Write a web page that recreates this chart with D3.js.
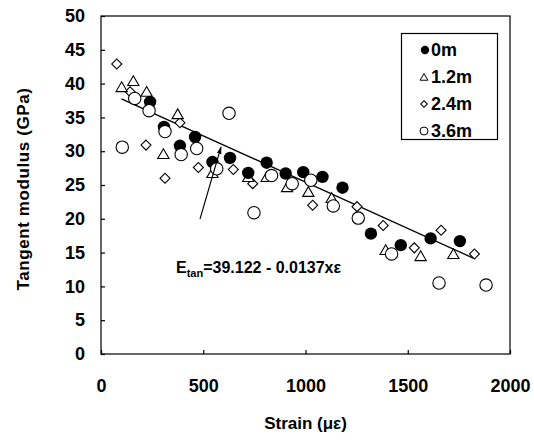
<!DOCTYPE html>
<html>
<head>
<meta charset="utf-8">
<script src="https://cdn.jsdelivr.net/npm/d3@7"></script>
<style>
  body { margin: 0; background: #fff; }
  text { font-family: "Liberation Sans", Arial, sans-serif; font-weight: bold; fill: #000; }
</style>
</head>
<body>
<svg id="chart" width="534" height="444"></svg>
<script>
// strain (micro-strain) and tangent modulus (GPa) for each depth
let depth0x = [240, 308, 386, 460, 545, 631, 720, 810, 903, 989, 1083, 1181, 1320, 1466, 1612, 1755]
let depth0y = [37.3, 33.6, 30.8, 32.1, 28.4, 29.0, 26.8, 28.3, 26.7, 26.9, 26.2, 24.6, 17.8, 16.1, 17.1, 16.7]

let depth12x = [101, 158, 223, 305, 375, 545, 720, 810, 910, 1014, 1128, 1392, 1563, 1723]
let depth12y = [39.3, 40.2, 38.6, 29.4, 35.3, 26.6, 26.0, 26.0, 24.5, 23.8, 22.9, 15.2, 14.3, 14.6]

let depth24x = [77, 142, 220, 313, 386, 476, 647, 742, 1035, 1252, 1380, 1532, 1663, 1826]
let depth24y = [42.9, 38.8, 30.9, 26.0, 34.2, 27.6, 27.3, 25.2, 22.0, 21.8, 19.0, 15.7, 18.3, 14.8]

let depth36x = [104, 165, 235, 313, 392, 468, 566, 626, 748, 834, 935, 1026, 1136, 1258, 1421, 1653, 1883]
let depth36y = [30.6, 37.8, 36.0, 32.9, 29.5, 30.4, 27.4, 35.6, 20.9, 26.4, 25.2, 25.7, 21.9, 20.1, 14.8, 10.5, 10.2]

let seriesNames = ['0m', '1.2m', '2.4m', '3.6m']
let xTicks = [0, 500, 1000, 1500, 2000]
let yTicks = [0, 5, 10, 15, 20, 25, 30, 35, 40, 45, 50]

// fitted line E = 39.122 - 0.0137 x
let fitA = 39.122
let fitB = 0.0137
let fitRange = [100, 1820]

let svg = d3.select('#chart')

let plotLeft = 101, plotTop = 16, plotRight = 510, plotBottom = 354

let xScale = d3.scaleLinear().domain([0, 2000]).range([plotLeft, plotRight])
let yScale = d3.scaleLinear().domain([0, 50]).range([plotBottom, plotTop])

// plot frame
svg.append('rect')
   .attr('x', plotLeft)
   .attr('y', plotTop)
   .attr('width', plotRight - plotLeft)
   .attr('height', plotBottom - plotTop)
   .attr('fill', 'none')
   .attr('stroke', '#000')
   .attr('stroke-width', 1.2)

let xAxis = d3.axisBottom(xScale)
              .tickValues(xTicks)
              .tickSizeInner(-4)
              .tickSizeOuter(0)
              .tickPadding(25)
              .tickFormat(d3.format('d'))

let yAxis = d3.axisLeft(yScale)
              .tickValues(yTicks)
              .tickSizeInner(-4)
              .tickSizeOuter(0)
              .tickPadding(16)

svg.append('g')
   .attr('transform', 'translate(0,' + plotBottom + ')')
   .call(xAxis)
svg.append('g')
   .attr('transform', 'translate(' + plotLeft + ',0)')
   .call(yAxis)

svg.selectAll('.domain').remove()
svg.selectAll('.tick line').attr('stroke', '#000').attr('stroke-width', 1.2)
svg.selectAll('.tick text')
   .style('font-family', '"Liberation Sans", Arial, sans-serif')
   .style('font-weight', 'bold')
   .style('font-size', '18px')
   .attr('fill', '#000')

// axis titles
svg.append('text')
   .attr('x', (plotLeft + plotRight) / 2)
   .attr('y', 429)
   .attr('text-anchor', 'middle')
   .style('font-size', '17px')
   .text('Strain (\u03bc\u03b5)')

svg.append('text')
   .attr('transform', 'translate(29,189) rotate(-90)')
   .attr('text-anchor', 'middle')
   .style('font-size', '17px')
   .style('letter-spacing', '0.6px')
   .text('Tangent modulus (GPa)')

// regression line
let fitLine = d3.line()
                .x((d) => xScale(d))
                .y((d) => yScale(fitA - fitB * d))
svg.append('path')
   .attr('d', fitLine(fitRange))
   .attr('fill', 'none')
   .attr('stroke', '#000')
   .attr('stroke-width', 1.3)

// markers
let triangle = d3.symbol().type(d3.symbolTriangle).size(55)
let diamond = d3.symbol().type(d3.symbolSquare).size(50)

let toPoints = (xs, ys) => xs.map((x, i) => ({x: x, y: ys[i]}))

svg.append('g').selectAll('path')
   .data(toPoints(depth24x, depth24y))
   .enter()
   .append('path')
   .attr('d', diamond)
   .attr('transform', (d) => 'translate(' + xScale(d.x) + ',' + yScale(d.y) + ') rotate(45)')
   .attr('fill', '#fff')
   .attr('stroke', '#000')
   .attr('stroke-width', 1.1)

svg.append('g').selectAll('path')
   .data(toPoints(depth12x, depth12y))
   .enter()
   .append('path')
   .attr('d', triangle)
   .attr('transform', (d) => 'translate(' + xScale(d.x) + ',' + yScale(d.y) + ')')
   .attr('fill', '#fff')
   .attr('stroke', '#000')
   .attr('stroke-width', 1.1)

svg.append('g').selectAll('circle')
   .data(toPoints(depth0x, depth0y))
   .enter()
   .append('circle')
   .attr('cx', (d) => xScale(d.x))
   .attr('cy', (d) => yScale(d.y))
   .attr('r', 6.2)
   .attr('fill', '#000')

svg.append('g').selectAll('circle')
   .data(toPoints(depth36x, depth36y))
   .enter()
   .append('circle')
   .attr('cx', (d) => xScale(d.x))
   .attr('cy', (d) => yScale(d.y))
   .attr('r', 6.2)
   .attr('fill', '#fff')
   .attr('stroke', '#000')
   .attr('stroke-width', 1.1)

// equation annotation with arrow
svg.append('defs').append('marker')
   .attr('id', 'head')
   .attr('viewBox', '0 0 10 10')
   .attr('refX', 9)
   .attr('refY', 5)
   .attr('markerWidth', 7)
   .attr('markerHeight', 9)
   .attr('orient', 'auto')
   .append('path')
   .attr('d', 'M0,2 L10,5 L0,8 Z')
   .attr('fill', '#000')

svg.append('line')
   .attr('x1', 200)
   .attr('y1', 219)
   .attr('x2', 221)
   .attr('y2', 147)
   .attr('stroke', '#000')
   .attr('stroke-width', 1.1)
   .attr('marker-end', 'url(#head)')

let eq = svg.append('text')
            .attr('x', 176)
            .attr('y', 273)
            .style('font-size', '16px')
eq.append('tspan').text('E')
eq.append('tspan').attr('dy', 4).style('font-size', '11px').text('tan')
eq.append('tspan').attr('dy', -4).text('=39.122 - 0.0137x\u03b5')

// legend
let legend = svg.append('g')
legend.append('rect')
      .attr('x', 401.5)
      .attr('y', 33.5)
      .attr('width', 96)
      .attr('height', 106)
      .attr('fill', '#fff')
      .attr('stroke', '#000')
      .attr('stroke-width', 1.2)

let rowY = (i) => 50 + i * 27
let smallTri = d3.symbol().type(d3.symbolTriangle).size(26)
let smallDia = d3.symbol().type(d3.symbolSquare).size(22)

legend.append('circle').attr('cx', 425).attr('cy', rowY(0)).attr('r', 4.2).attr('fill', '#000')
legend.append('path').attr('d', smallTri)
      .attr('transform', 'translate(424,' + (rowY(1) + 1) + ')')
      .attr('fill', '#fff').attr('stroke', '#000').attr('stroke-width', 1)
legend.append('path').attr('d', smallDia)
      .attr('transform', 'translate(424,' + rowY(2) + ') rotate(45)')
      .attr('fill', '#fff').attr('stroke', '#000').attr('stroke-width', 1)
legend.append('circle').attr('cx', 424).attr('cy', rowY(3)).attr('r', 4)
      .attr('fill', '#fff').attr('stroke', '#000').attr('stroke-width', 1)

legend.selectAll('text.lab')
      .data(seriesNames)
      .enter()
      .append('text')
      .attr('class', 'lab')
      .attr('x', 431)
      .attr('y', (d, i) => rowY(i) + 6)
      .style('font-size', '18px')
      .text((d) => d)
</script>
</body>
</html>
